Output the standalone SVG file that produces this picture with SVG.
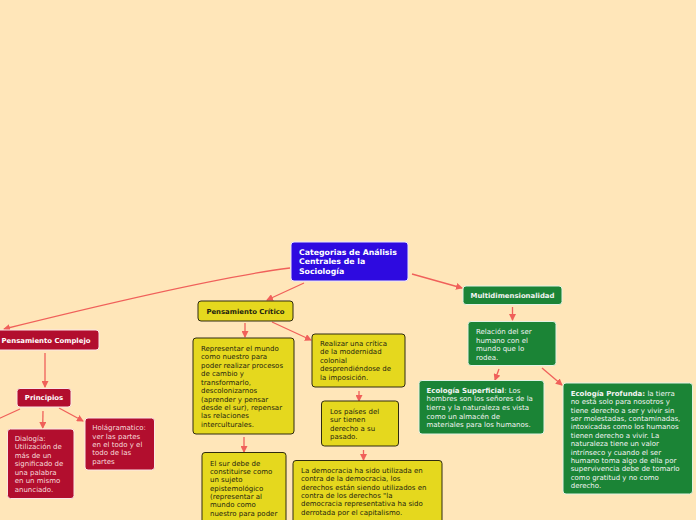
<svg xmlns="http://www.w3.org/2000/svg" width="696" height="520" viewBox="0 0 696 520">
<defs>
<style>
.bg{fill:#FFE6B9}
.blue{fill:#2E0AE0;stroke:#E8E4FF;stroke-width:1}
.yel{fill:#E5D81E;stroke:#2E2A10;stroke-width:1}
.red{fill:#B20E2E;stroke:#FBE6E6;stroke-width:1}
.grn{fill:#1B8436;stroke:#E4F2E4;stroke-width:1}
text{font-family:"DejaVu Sans","Verdana",sans-serif;font-size:7px}
.t{font-weight:bold;font-size:6.9px;text-anchor:middle}
.tc{font-weight:bold;font-size:7.8px;fill:#fff}
.dk{fill:#1E1E10}
.wh{fill:#F4F4F4}
.pk{fill:#F7DCDC}
.b{font-weight:bold}
.c{fill:none;stroke:#F0605A;stroke-width:1.3}
</style>
<marker id="ah" markerUnits="userSpaceOnUse" markerWidth="7" markerHeight="7" refX="6" refY="3.5" orient="auto">
<path d="M0,0 L7,3.5 L0,7 z" fill="#F0605A"/>
</marker>
</defs>
<rect class="bg" x="0" y="0" width="696" height="520"/>

<g id="connectors">
<path class="c" d="M290,268 Q210,278 4,329" marker-end="url(#ah)"/>
<path class="c" d="M304,283 L267,300" marker-end="url(#ah)"/>
<path class="c" d="M412,274 L462,288" marker-end="url(#ah)"/>
<path class="c" d="M512.5,307 L512.5,320" marker-end="url(#ah)"/>
<path class="c" d="M499,369 L495,380" marker-end="url(#ah)"/>
<path class="c" d="M542,368 L562,385" marker-end="url(#ah)"/>
<path class="c" d="M45,353 L45,387" marker-end="url(#ah)"/>
<path class="c" d="M20,409 L-2,419"/>
<path class="c" d="M43,411 L42.7,428" marker-end="url(#ah)"/>
<path class="c" d="M59,408 L83,421" marker-end="url(#ah)"/>
<path class="c" d="M245,323 L245,337" marker-end="url(#ah)"/>
<path class="c" d="M272,322 L311,340" marker-end="url(#ah)"/>
<path class="c" d="M359,391 L359,401" marker-end="url(#ah)"/>
<path class="c" d="M363.5,450 L363.5,460" marker-end="url(#ah)"/>
<path class="c" d="M244,437 L244,452" marker-end="url(#ah)"/>
</g>

<g id="central">
<rect class="blue" x="291" y="242" width="117" height="39" rx="3"/>
<text class="tc"><tspan x="299" y="254.5">Categorias de Análisis</tspan><tspan x="299" y="264">Centrales de la</tspan><tspan x="299" y="273.5">Sociología</tspan></text>
</g>

<g id="pensamiento-critico">
<rect class="yel" x="198" y="301" width="95" height="20" rx="3"/>
<text class="t dk" x="245.5" y="314">Pensamiento Crítico</text>
</g>

<g id="representar">
<rect class="yel" x="193" y="338" width="101" height="96" rx="3"/>
<text class="dk"><tspan x="201" y="350.8">Representar el mundo</tspan><tspan x="201" y="359.25">como nuestro para</tspan><tspan x="201" y="367.7">poder realizar procesos</tspan><tspan x="201" y="376.15">de cambio y</tspan><tspan x="201" y="384.6">transformarlo,</tspan><tspan x="201" y="393.05">descolonizarnos</tspan><tspan x="201" y="401.5">(aprender y pensar</tspan><tspan x="201" y="409.95">desde el sur), repensar</tspan><tspan x="201" y="418.4">las relaciones</tspan><tspan x="201" y="426.85">interculturales.</tspan></text>
</g>

<g id="el-sur">
<rect class="yel" x="202" y="452.5" width="84" height="75" rx="3"/>
<text class="dk"><tspan x="210" y="465.8">El sur debe de</tspan><tspan x="210" y="474.1">constituirse como</tspan><tspan x="210" y="482.4">un sujeto</tspan><tspan x="210" y="490.7">epistemológico</tspan><tspan x="210" y="499">(representar al</tspan><tspan x="210" y="507.3">mundo como</tspan><tspan x="210" y="515.6">nuestro para poder</tspan></text>
</g>

<g id="realizar">
<rect class="yel" x="312" y="334" width="93" height="53" rx="3"/>
<text class="dk"><tspan x="320" y="345.8">Realizar una crítica</tspan><tspan x="320" y="354.3">de la modernidad</tspan><tspan x="320" y="362.8">colonial</tspan><tspan x="320" y="371.3">desprendiéndose de</tspan><tspan x="320" y="379.8">la imposición.</tspan></text>
</g>

<g id="paises">
<rect class="yel" x="321.5" y="401" width="77" height="45" rx="3"/>
<text class="dk"><tspan x="330" y="413.5">Los países del</tspan><tspan x="330" y="422.15">sur tienen</tspan><tspan x="330" y="430.8">derecho a su</tspan><tspan x="330" y="439.45">pasado.</tspan></text>
</g>

<g id="democracia">
<rect class="yel" x="293" y="460.5" width="149" height="64" rx="3"/>
<text class="dk"><tspan x="301" y="472.8">La democracia ha sido utilizada en</tspan><tspan x="301" y="481.2">contra de la democracia, los</tspan><tspan x="301" y="489.6">derechos están siendo utilizados en</tspan><tspan x="301" y="498">contra de los derechos "la</tspan><tspan x="301" y="506.4">democracia representativa ha sido</tspan><tspan x="301" y="514.8">derrotada por el capitalismo.</tspan></text>
</g>

<g id="multidimensionalidad">
<rect class="grn" x="463" y="286" width="99" height="18.5" rx="3"/>
<text class="t wh" x="512.5" y="298.2">Multidimensionalidad</text>
</g>

<g id="relacion">
<rect class="grn" x="468" y="321.5" width="88" height="44" rx="3"/>
<text class="wh"><tspan x="476" y="334.2">Relación del ser</tspan><tspan x="476" y="342.7">humano con el</tspan><tspan x="476" y="351.2">mundo que lo</tspan><tspan x="476" y="359.7">rodea.</tspan></text>
</g>

<g id="ecologia-superficial">
<rect class="grn" x="419" y="380.5" width="125" height="53.5" rx="3"/>
<text class="wh"><tspan x="426.5" y="392.5"><tspan class="b">Ecología Superficial</tspan>: Los</tspan><tspan x="426.5" y="401.2">hombres son los señores de la</tspan><tspan x="426.5" y="409.9">tierra y la naturaleza es vista</tspan><tspan x="426.5" y="418.6">como un almacén de</tspan><tspan x="426.5" y="427.3">materiales para los humanos.</tspan></text>
</g>

<g id="ecologia-profunda">
<rect class="grn" x="563" y="383" width="129.5" height="111" rx="3"/>
<text class="wh"><tspan x="570.7" y="395.8"><tspan class="b">Ecología Profunda:</tspan> la tierra</tspan><tspan x="570.7" y="404.2">no está solo para nosotros y</tspan><tspan x="570.7" y="412.6">tiene derecho a ser y vivir sin</tspan><tspan x="570.7" y="421">ser molestadas, contaminadas,</tspan><tspan x="570.7" y="429.4">intoxicadas como los humanos</tspan><tspan x="570.7" y="437.8">tienen derecho a vivir. La</tspan><tspan x="570.7" y="446.2">naturaleza tiene un valor</tspan><tspan x="570.7" y="454.6">intrínseco y cuando el ser</tspan><tspan x="570.7" y="463">humano toma algo de ella por</tspan><tspan x="570.7" y="471.4">supervivencia debe de tomarlo</tspan><tspan x="570.7" y="479.8">como gratitud y no como</tspan><tspan x="570.7" y="488.2">derecho.</tspan></text>
</g>

<g id="pensamiento-complejo">
<rect class="red" x="-8" y="330" width="107" height="20" rx="3"/>
<text class="t" fill="#fff" x="46" y="343.2">Pensamiento Complejo</text>
</g>

<g id="principios">
<rect class="red" x="17" y="388.5" width="54" height="18.5" rx="3"/>
<text class="t" fill="#fff" x="44" y="399.8">Principios</text>
</g>

<g id="dialogia">
<rect class="red" x="7.5" y="429" width="66.5" height="69.5" rx="3"/>
<text class="pk"><tspan x="14.7" y="440.8">Dialogía:</tspan><tspan x="14.7" y="449.3">Utilización de</tspan><tspan x="14.7" y="457.8">más de un</tspan><tspan x="14.7" y="466.3">significado de</tspan><tspan x="14.7" y="474.8">una palabra</tspan><tspan x="14.7" y="483.3">en un mismo</tspan><tspan x="14.7" y="491.8">anunciado.</tspan></text>
</g>

<g id="holagramatico">
<rect class="red" x="85" y="418" width="69.5" height="52" rx="3"/>
<text class="pk"><tspan x="92.3" y="430.2">Holágramatico:</tspan><tspan x="92.3" y="438.6">ver las partes</tspan><tspan x="92.3" y="447">en el todo y el</tspan><tspan x="92.3" y="455.4">todo de las</tspan><tspan x="92.3" y="463.8">partes</tspan></text>
</g>
</svg>
